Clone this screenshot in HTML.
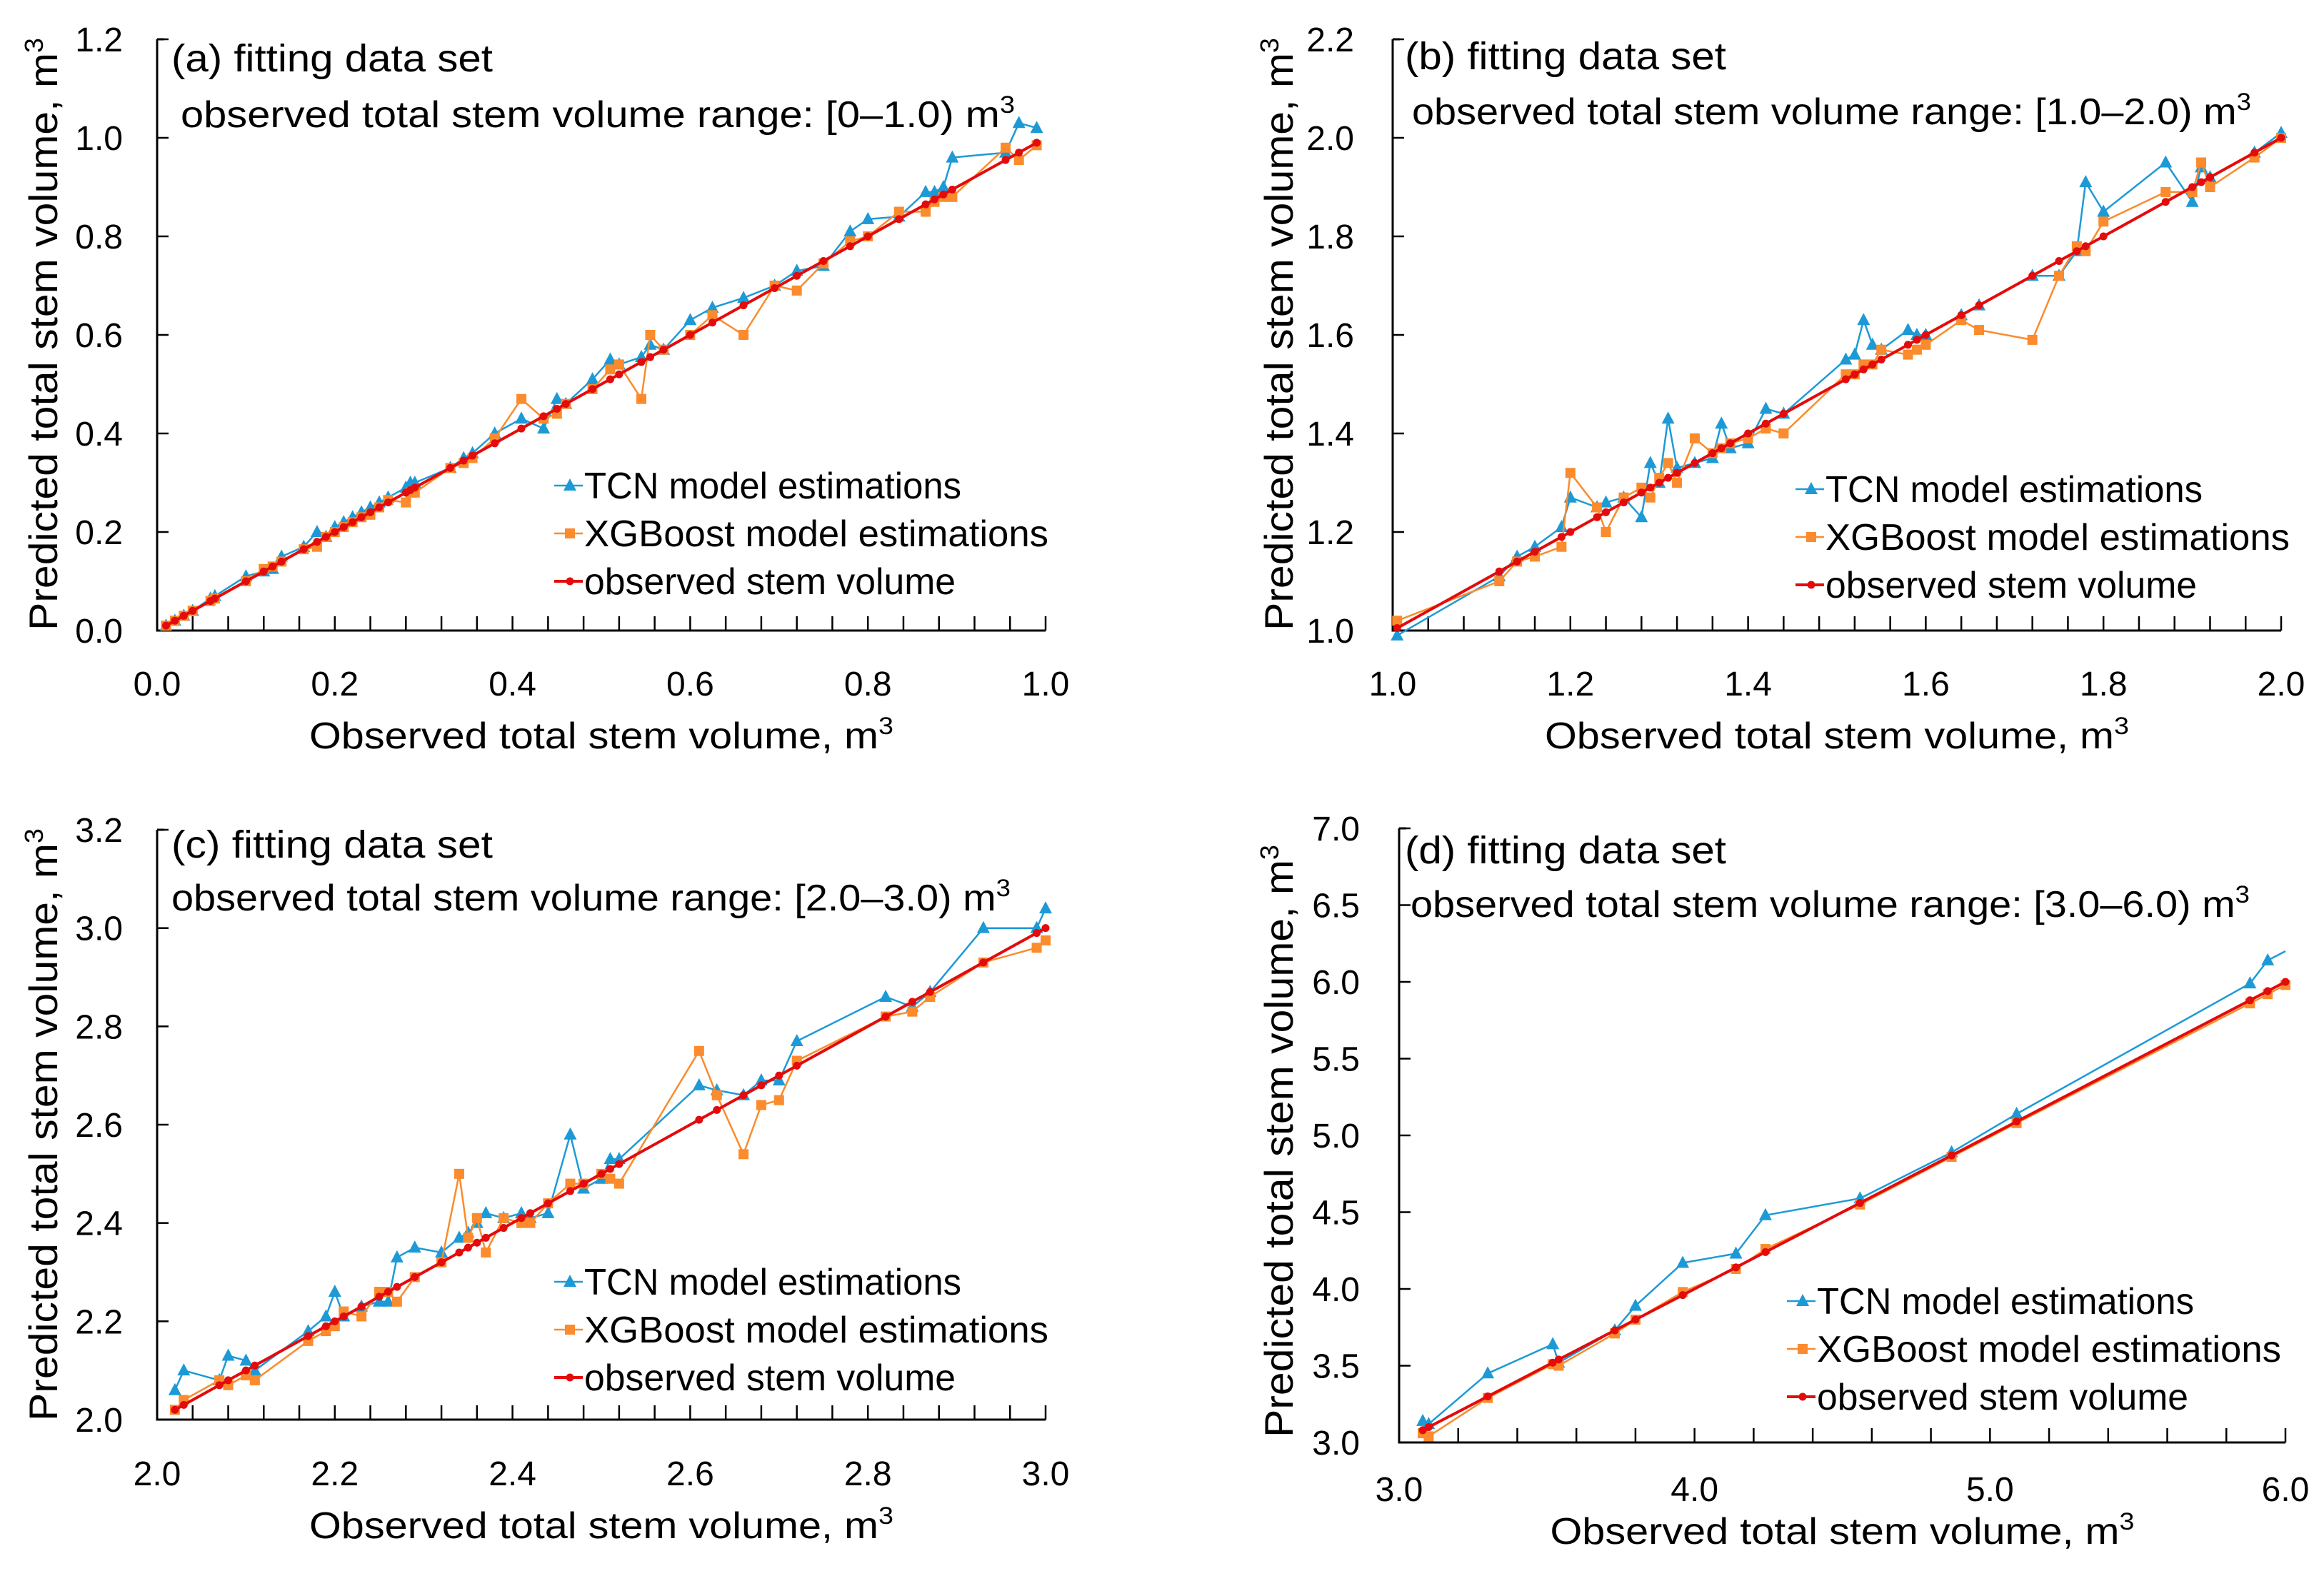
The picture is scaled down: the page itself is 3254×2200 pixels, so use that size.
<!DOCTYPE html>
<html><head><meta charset="utf-8">
<style>
html,body{margin:0;padding:0;background:#fff;}
svg{display:block;font-family:"Liberation Sans",sans-serif;}
</style></head>
<body>
<svg id="chart" width="3254" height="2200" viewBox="0 0 3254 2200" xmlns="http://www.w3.org/2000/svg"></svg>
<script>
// Panel (a)
const obsA = [0.01,0.02,0.03,0.04,0.06,0.065,0.10,0.12,0.13,0.14,0.165,0.18,0.19,0.20,0.21,0.22,0.23,0.24,0.25,0.26,0.28,0.285,0.29,0.33,0.345,0.355,0.38,0.41,0.435,0.45,0.46,0.49,0.51,0.52,0.545,0.555,0.57,0.60,0.625,0.66,0.695,0.72,0.75,0.78,0.80,0.835,0.865,0.875,0.885,0.895,0.955,0.97,0.99];
const tcnA = [0.01,0.02,0.03,0.04,0.065,0.07,0.11,0.12,0.125,0.15,0.17,0.2,0.19,0.21,0.22,0.23,0.24,0.25,0.26,0.27,0.29,0.3,0.3,0.33,0.35,0.36,0.4,0.43,0.41,0.47,0.46,0.51,0.55,0.54,0.555,0.58,0.57,0.63,0.655,0.675,0.70,0.73,0.74,0.81,0.835,0.84,0.89,0.89,0.90,0.96,0.97,1.03,1.02];
const xgbA = [0.01,0.02,0.03,0.04,0.06,0.065,0.10,0.125,0.13,0.14,0.165,0.17,0.19,0.20,0.21,0.22,0.23,0.235,0.25,0.265,0.26,0.28,0.28,0.33,0.34,0.35,0.39,0.47,0.43,0.44,0.46,0.49,0.53,0.54,0.47,0.60,0.57,0.60,0.64,0.60,0.70,0.69,0.745,0.79,0.80,0.85,0.85,0.87,0.88,0.88,0.98,0.955,0.985];
const xTicksA = ["0.0","0.2","0.4","0.6","0.8","1.0"];
const yTicksA = ["0.0","0.2","0.4","0.6","0.8","1.0","1.2"];
// Panel (b)
const obsB = [1.005,1.12,1.14,1.16,1.19,1.2,1.23,1.24,1.26,1.28,1.29,1.3,1.31,1.32,1.34,1.36,1.37,1.38,1.4,1.42,1.44,1.51,1.52,1.53,1.54,1.55,1.58,1.59,1.6,1.64,1.66,1.72,1.75,1.77,1.78,1.80,1.87,1.90,1.91,1.92,1.97,2.0];
const tcnB = [0.99,1.11,1.15,1.17,1.21,1.27,1.25,1.26,1.27,1.23,1.34,1.30,1.43,1.33,1.34,1.35,1.42,1.37,1.38,1.45,1.44,1.55,1.56,1.63,1.58,1.57,1.61,1.60,1.60,1.64,1.66,1.72,1.72,1.77,1.91,1.85,1.95,1.87,1.94,1.92,1.97,2.01];
const xgbB = [1.02,1.10,1.14,1.15,1.17,1.32,1.25,1.20,1.27,1.29,1.27,1.31,1.34,1.30,1.39,1.36,1.37,1.38,1.39,1.41,1.40,1.52,1.52,1.54,1.54,1.57,1.56,1.57,1.58,1.63,1.61,1.59,1.72,1.78,1.77,1.83,1.89,1.89,1.95,1.90,1.96,2.0];
const xTicksB = ["1.0","1.2","1.4","1.6","1.8","2.0"];
const yTicksB = ["1.0","1.2","1.4","1.6","1.8","2.0","2.2"];
// Panel (c)
const obsC = [2.02,2.03,2.07,2.08,2.1,2.11,2.17,2.19,2.2,2.21,2.23,2.25,2.26,2.27,2.29,2.32,2.34,2.35,2.36,2.37,2.39,2.41,2.42,2.44,2.465,2.48,2.5,2.51,2.52,2.61,2.63,2.66,2.68,2.70,2.72,2.82,2.85,2.87,2.93,2.99,3.0];
const tcnC = [2.06,2.10,2.08,2.13,2.12,2.10,2.18,2.21,2.26,2.21,2.23,2.24,2.24,2.33,2.35,2.34,2.37,2.38,2.40,2.42,2.41,2.42,2.41,2.42,2.58,2.47,2.49,2.53,2.53,2.68,2.67,2.66,2.69,2.69,2.77,2.86,2.84,2.87,3.00,3.00,3.04];
const xgbC = [2.02,2.04,2.08,2.07,2.09,2.08,2.16,2.18,2.19,2.22,2.21,2.26,2.26,2.24,2.29,2.32,2.50,2.37,2.41,2.34,2.41,2.40,2.40,2.44,2.48,2.48,2.50,2.49,2.48,2.75,2.66,2.54,2.64,2.65,2.73,2.82,2.83,2.86,2.93,2.96,2.975];
const xTicksC = ["2.0","2.2","2.4","2.6","2.8","3.0"];
const yTicksC = ["2.0","2.2","2.4","2.6","2.8","3.0","3.2"];
// Panel (d)
const obsD = [3.08,3.1,3.3,3.52,3.54,3.73,3.8,3.96,4.14,4.24,4.56,4.87,5.09,5.88,5.94,6.0];
const tcnD = [3.14,3.12,3.45,3.64,3.52,3.73,3.89,4.17,4.23,4.48,4.59,4.89,5.14,5.99,6.14,6.2];
const xgbD = [3.06,3.04,3.29,3.51,3.5,3.71,3.8,3.98,4.13,4.26,4.55,4.86,5.08,5.86,5.92,5.98];
const xTicksD = ["3.0","4.0","5.0","6.0"];
const yTicksD = ["3.0","3.5","4.0","4.5","5.0","5.5","6.0","6.5","7.0"];

const NS="http://www.w3.org/2000/svg";
const svg=document.getElementById('chart');
function mk(tag,attrs,parent,text){const e=document.createElementNS(NS,tag);for(const k in attrs)e.setAttribute(k,attrs[k]);if(text!==undefined)e.textContent=text;(parent||svg).appendChild(e);return e;}
const BLUE="#1d9ad6",ORANGE="#fb8b2c",RED="#e30b0b";

function panel(cfg){
  const g=mk('g',{});
  
  
  const {L,R,T,B,xmin,xmax,ymin,ymax}=cfg;
  const sx=v=>L+(v-xmin)/(xmax-xmin)*(R-L);
  const sy=v=>B-(v-ymin)/(ymax-ymin)*(B-T);
  const ax=mk('path',{d:`M${L},${T} L${L},${B} L${R},${B}`,stroke:'#000','stroke-width':3,fill:'none'},g);
  
  
  mk('line',{x1:L,y1:T,x2:L+10,y2:T,stroke:'#000','stroke-width':3},g);
  for(let v=xmin;v<=xmax+1e-9;v+=cfg.xminor){const x=sx(v);mk('line',{x1:x,y1:B,x2:x,y2:B-20,stroke:'#000','stroke-width':2.5},g);}
  cfg.yTicks.forEach(t=>{const y=sy(parseFloat(t));mk('line',{x1:L,y1:y,x2:L+16,y2:y,stroke:'#000','stroke-width':2.5},g);
    const tl=mk('text',{x:cfg.yLabelR,y:y+17,'text-anchor':'end','font-size':48},g,t);
    
    });
  cfg.xTicks.forEach(t=>{const x=sx(parseFloat(t));
    const tl=mk('text',{x:x,y:cfg.xLabelY,'text-anchor':'middle','font-size':48},g,t);
    
    });
  const xt=mk('text',{x:(L+R)/2,y:cfg.xTitleY,'text-anchor':'middle','font-size':52,textLength:818,lengthAdjust:'spacingAndGlyphs'},g);
  
  
  xt.innerHTML='Observed total stem volume, m<tspan dy="-20" font-size="34">3</tspan>';
  const ytt=mk('text',{x:0,y:0,'text-anchor':'middle','font-size':56,textLength:cfg.yTitleW,lengthAdjust:'spacingAndGlyphs',transform:`translate(${cfg.yTitleX},${cfg.yTitleY}) rotate(-90)`},g);
  
  
  ytt.innerHTML='Predicted total stem volume, m<tspan dy="-20" font-size="36">3</tspan>';
  const t1=mk('text',{x:cfg.t1x,y:cfg.t1y,'font-size':54,textLength:450,lengthAdjust:'spacingAndGlyphs'},g,'('+cfg.id+') fitting data set');
  
  
  const t2=mk('text',{x:cfg.t2x,y:cfg.t2y,'font-size':52,textLength:cfg.t2w,lengthAdjust:'spacingAndGlyphs'},g);
  
  
  t2.innerHTML='observed total stem volume range: '+cfg.range+' m<tspan dy="-20" font-size="34">3</tspan>';
  const clip='clip'+cfg.id;
  const cp=mk('clipPath',{id:clip},g);mk('rect',{x:L-20,y:T-10,width:R-L+30,height:B-T+30},cp);
  function series(ys,color,w,marker,name){
    const sg=mk('g',{'clip-path':`url(#${clip})`},g);
    
    
    const n=Math.min(cfg.obs.length,ys.length);
    let d='';for(let i=0;i<n;i++){d+=(i?'L':'M')+sx(cfg.obs[i]).toFixed(1)+','+sy(ys[i]).toFixed(1);}
    mk('path',{d:d,stroke:color,'stroke-width':w,fill:'none','stroke-linejoin':'round'},sg);
    for(let i=0;i<n;i++){const x=sx(cfg.obs[i]),y=sy(ys[i]);
      if(cfg.id==='d'&&name==='tcn'&&i===n-1)continue;
      const m=drawMarker(sg,marker,x,y,color);
      
      }
  }
  series(cfg.tcn,BLUE,2.5,'tri','tcn');
  series(cfg.xgb,ORANGE,2.5,'sq','xgboost');
  series(cfg.obs,RED,4,'dot','observed');
  const lg=mk('g',{},g);
  
  
  const items=[['TCN model estimations',BLUE,'tri'],['XGBoost model estimations',ORANGE,'sq'],['observed stem volume',RED,'dot']];
  const legW=[528,650,520];
  items.forEach((it,i)=>{const y=cfg.legY0+i*67;
    const e=mk('g',{},lg);
    
    
    mk('line',{x1:cfg.legX-42,y1:y,x2:cfg.legX-2,y2:y,stroke:it[1],'stroke-width':it[2]==='dot'?4:2.5},e);
    drawMarker(e,it[2],cfg.legX-20,y,it[1]);
    mk('text',{x:cfg.legX,y:y+18,'font-size':52,textLength:legW[i],lengthAdjust:'spacingAndGlyphs'},e,it[0]);});
}
function drawMarker(p,type,x,y,c){
  if(type==='tri')return mk('path',{d:`M${x},${y-10} L${x+9},${y+7} L${x-9},${y+7} Z`,fill:c},p);
  if(type==='sq')return mk('rect',{x:x-7,y:y-7,width:14,height:14,fill:c},p);
  return mk('circle',{cx:x,cy:y,r:5.5,fill:c},p);
}
panel({id:'a',L:220,R:1464,T:55,B:883,xmin:0,xmax:1,ymin:0,ymax:1.2,xminor:0.04,obs:obsA,tcn:tcnA,xgb:xgbA,xTicks:xTicksA,yTicks:yTicksA,
  yLabelR:172,xLabelY:974,xTitleY:1048,yTitleX:80,yTitleY:468,yTitleW:830,t1x:240,t1y:100,t2x:253,t2y:178,t2w:1168,range:'[0–1.0)',
  legX:818,legY0:680});
panel({id:'b',L:1950,R:3194,T:55,B:883,xmin:1,xmax:2,ymin:1,ymax:2.2,xminor:0.04,obs:obsB,tcn:tcnB,xgb:xgbB,xTicks:xTicksB,yTicks:yTicksB,
  yLabelR:1896,xLabelY:974,xTitleY:1048,yTitleX:1810,yTitleY:468,yTitleW:830,t1x:1967,t1y:97,t2x:1977,t2y:174,t2w:1175,range:'[1.0–2.0)',
  legX:2556,legY0:685});
panel({id:'c',L:220,R:1464,T:1162,B:1988,xmin:2,xmax:3,ymin:2,ymax:3.2,xminor:0.04,obs:obsC,tcn:tcnC,xgb:xgbC,xTicks:xTicksC,yTicks:yTicksC,
  yLabelR:172,xLabelY:2080,xTitleY:2154,yTitleX:80,yTitleY:1575,yTitleW:830,t1x:240,t1y:1201,t2x:240,t2y:1275,t2w:1175,range:'[2.0–3.0)',
  legX:818,legY0:1795});
panel({id:'d',L:1959,R:3200,T:1160,B:2020,xmin:3,xmax:6,ymin:3,ymax:7,xminor:0.2,obs:obsD,tcn:tcnD,xgb:xgbD,xTicks:xTicksD,yTicks:yTicksD,
  yLabelR:1904,xLabelY:2102,xTitleY:2162,yTitleX:1810,yTitleY:1598,yTitleW:830,t1x:1967,t1y:1209,t2x:1975,t2y:1284,t2w:1175,range:'[3.0–6.0)',
  legX:2544,legY0:1822});
</script>
</body></html>
